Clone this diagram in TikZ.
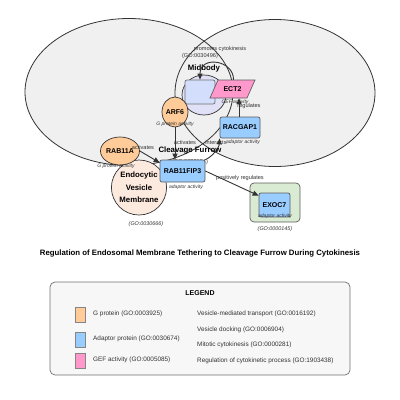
\documentclass[tikz,border=0pt]{standalone}
\usepackage{fontspec}
\setmainfont{Liberation Sans}
\usetikzlibrary{shapes.geometric,arrows.meta}
\definecolor{cellgray}{HTML}{F0F0F0}
\definecolor{dark}{HTML}{333333}
\definecolor{gorange}{HTML}{FFCC99}
\definecolor{ablue}{HTML}{99CCFF}
\definecolor{gpink}{HTML}{FF99CC}
\definecolor{lav}{HTML}{E0E0F6}
\definecolor{midblue}{HTML}{D2DEFC}
\definecolor{peach}{HTML}{FDEADF}
\definecolor{lgreen}{HTML}{DAEBD4}
\tikzset{
  cellout/.style={draw=dark, line width=0.8pt},
  gprot/.style={ellipse, draw=dark, line width=0.7pt, fill=gorange, inner sep=0pt, minimum width=26pt, minimum height=30pt, font=\fontsize{7}{8}\selectfont\bfseries},
  adaptor/.style={rectangle, rounded corners=2pt, draw=dark!80, line width=0.7pt, fill=ablue, inner sep=0pt, font=\fontsize{7}{8}\selectfont\bfseries},
  geftext/.style={rectangle, inner sep=0pt, minimum width=37pt, minimum height=18pt, font=\fontsize{7}{8}\selectfont\bfseries},
  arr/.style={draw=dark, line width=0.9pt, -{Triangle[length=6pt,width=5pt]}},
  elab/.style={font=\fontsize{5.6}{6}\selectfont, text=dark, inner sep=0pt},
  sublab/.style={font=\fontsize{5}{6}\selectfont\itshape, text=dark, inner sep=0pt},
  complab/.style={font=\fontsize{7.8}{9}\selectfont\bfseries, inner sep=0pt},
  legtxt/.style={font=\fontsize{6.4}{7}\selectfont, text=dark, inner sep=0pt, anchor=west},
  swatch/.style={draw=dark!60, line width=0.5pt}
}
\begin{document}
\begin{tikzpicture}[x=1pt,y=-1pt]
\useasboundingbox (0,0) rectangle (400,400);
% cell compartments
\fill[cellgray] (129,92) ellipse [x radius=104, y radius=73.5];
\fill[cellgray] (275,93) ellipse [x radius=100, y radius=73.5];
\draw[cellout] (129,92) ellipse [x radius=104, y radius=73.5];
\draw[cellout] (275,93) ellipse [x radius=100, y radius=73.5];
% midbody compartment
\draw[fill=lav, draw=dark, line width=0.7pt] (204,95) ellipse [x radius=22, y radius=20];
\node[rectangle, rounded corners=2pt, draw=dark!70, line width=0.7pt, fill=midblue, minimum width=30pt, minimum height=24pt, inner sep=0pt] (mid) at (200,92) {};
% endocytic vesicle membrane
\node[ellipse, draw=dark, line width=0.7pt, fill=peach, minimum width=48pt, minimum height=55pt, inner sep=0pt, align=center, font=\fontsize{7.8}{12.5}\selectfont\bfseries] (ves) at (139,187.5) {Endocytic\\Vesicle\\Membrane};
\node[sublab, font=\fontsize{5.4}{6}\selectfont\itshape] (vesgo) at (146,224) {(GO:0030666)};
% EXOC7 compartment
\node[rectangle, rounded corners=4pt, draw=dark!80, line width=0.7pt, fill=lgreen, minimum width=50pt, minimum height=39pt, inner sep=0pt] (exbox) at (275,202.5) {};
\node[sublab, font=\fontsize{5.4}{6}\selectfont\itshape] (exgo) at (275,229) {(GO:0000145)};
% compartment labels
\node[elab] (midgo) at (200,56) {(GO:0030496)};
\node[complab] (midlab) at (204,68) {Midbody};
\node[elab] (cfgo) at (190,162) {(GO:0032154)};
\node[elab] (plab) at (220,49) {promotes cytokinesis};
% nodes
\draw[fill=gpink, draw=dark!80, line width=0.7pt] (210,98) -- (218,80) -- (255,80) -- (247,98) -- cycle;
\node[geftext] (ect2) at (232.5,89) {ECT2};
\node[sublab] (ect2s) at (235,102) {GEF activity};
\node[adaptor, minimum width=40pt, minimum height=21pt] (racgap) at (240,127.5) {RACGAP1};
\node[adaptor, minimum width=45pt, minimum height=22pt] (fip3) at (182.5,171) {RAB11FIP3};
\node[adaptor, minimum width=31pt, minimum height=24pt] (exoc7) at (274.5,205) {EXOC7};
\node[gprot] (arf6) at (175,112) {ARF6};
\node[gprot, minimum height=28pt] (rab11a) at (120,151) {RAB11A};
% edges
\draw[arr] ([xshift=1pt]ect2.north) .. controls (234,60) and (200,55) .. (mid.north);
\draw[arr] ([xshift=-1pt]racgap.north) -- ([xshift=-1pt]racgap.north |- ect2.south);
\draw[arr] (arf6.south) -- (arf6.south |- fip3.north);
\draw[arr] (rab11a.east) -- (fip3.160);
\draw[arr] (fip3.north east) .. controls (212,157) and (219,148) .. (racgap.south west);
\draw[arr] (fip3.east) -- ([yshift=-3pt]exoc7.north west);
% labels
\node[complab] (cflab) at (190,150.5) {Cleavage Furrow};
\node[elab] (l1) at (185,142) {activates};
\node[elab] (l2) at (143,147) {activates};
\node[elab] (l3) at (216,142.5) {interacts};
\node[elab] (l4) at (249,106) {regulates};
\node[elab] (l5) at (240,178) {positively regulates};
\node[sublab] (arf6s) at (175,124.5) {G protein activity};
\node[sublab] (rabs) at (116,166) {G protein activity};
\node[sublab] (racs) at (243,142) {adaptor activity};
\node[sublab] (fips) at (186,187) {adaptor activity};
\node[sublab] (exs) at (275,216.5) {adaptor activity};
% title
\node[font=\fontsize{7.8}{9}\selectfont\bfseries] (title) at (200,253) {Regulation of Endosomal Membrane Tethering to Cleavage Furrow During Cytokinesis};
% legend
\draw[draw=dark!70, line width=0.7pt, fill=white!97!black, rounded corners=5pt] (50,282) rectangle (350,375);
\node[font=\fontsize{7}{8}\selectfont\bfseries] (legt) at (200,293) {LEGEND};
\draw[swatch, fill=gorange] (75,307) rectangle (85,322);
\draw[swatch, fill=ablue] (75,332) rectangle (85,347);
\draw[swatch, fill=gpink] (75,353) rectangle (85,368);
\node[legtxt] (lg1) at (93,314) {G protein (GO:0003925)};
\node[legtxt] (lg2) at (93,339) {Adaptor protein (GO:0030674)};
\node[legtxt] (lg3) at (93,360) {GEF activity (GO:0005085)};
\node[legtxt] (lg4) at (197,314) {Vesicle-mediated transport (GO:0016192)};
\node[legtxt] (lg5) at (197,330) {Vesicle docking (GO:0006904)};
\node[legtxt] (lg6) at (197,345) {Mitotic cytokinesis (GO:0000281)};
\node[legtxt] (lg7) at (197,361) {Regulation of cytokinetic process (GO:1903438)};
\end{tikzpicture}
\end{document}
